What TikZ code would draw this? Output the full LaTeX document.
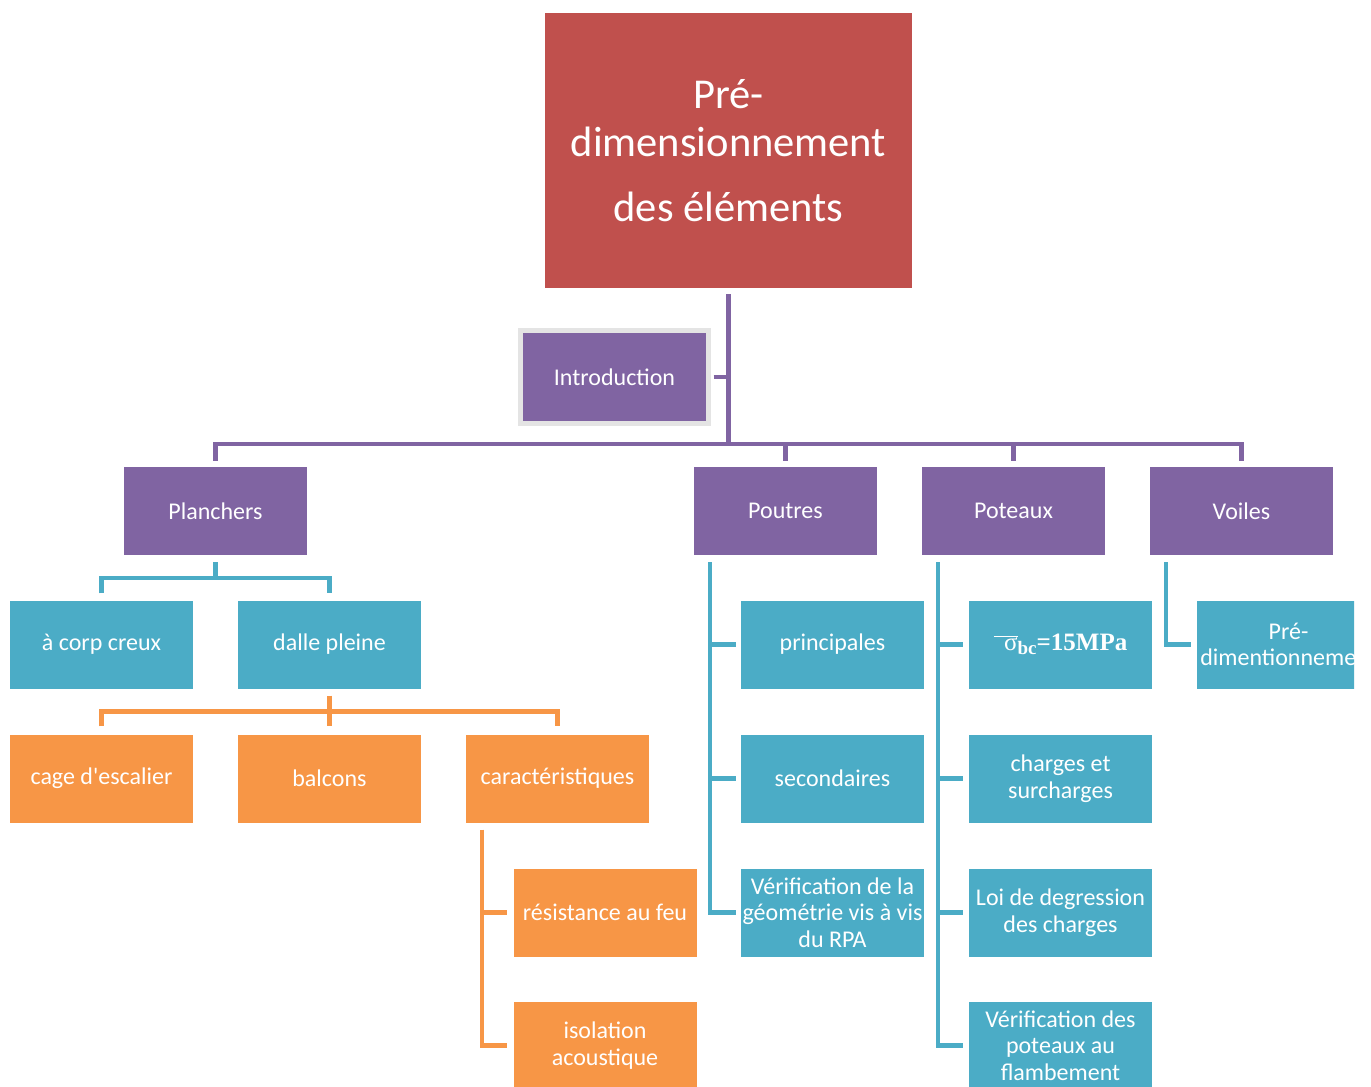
\documentclass[tikz,border=0pt]{standalone}
\usepackage{fontspec}
\setmainfont{Carlito}
\newfontfamily\serif{Liberation Serif}
\usetikzlibrary{calc}
\definecolor{cred}{HTML}{C0504D}
\definecolor{cpur}{HTML}{8064A2}
\definecolor{cblue}{HTML}{4BACC6}
\definecolor{corange}{HTML}{F79646}
\definecolor{cframe}{HTML}{E4E4E4}
\tikzset{
  box/.style={rectangle, minimum width=183pt, minimum height=88pt, inner sep=1pt,
    text=white, align=center, font=\fontsize{24}{26.5}\selectfont},
  pbox/.style={box, fill=cpur},
  bbox/.style={box, fill=cblue},
  obox/.style={box, fill=corange},
  pl/.style={draw=cpur, line width=4.5pt},
  bl/.style={draw=cblue, line width=4.5pt},
  ol/.style={draw=corange, line width=4.5pt},
}
\begin{document}
\begin{tikzpicture}[x=1pt,y=-1pt]
\useasboundingbox[fill=white] (0,0) rectangle (1371,1087);

\node[box, fill=cred, minimum width=367pt, minimum height=275pt,
  font=\fontsize{42.5}{48}\selectfont] (top) at (728.5,150.5)
  {Pré-\\dimensionnement\\[17pt]des éléments};
\node[pbox, minimum width=188pt, minimum height=93pt, draw=cframe, line width=5pt] (intro) at (614.5,377) {Introduction};

\node[pbox] (planchers) at (215.5,511) {Planchers};
\node[pbox] (poutres) at (785.5,511) {Poutres};
\node[pbox] (poteaux) at (1013.5,511) {Poteaux};
\node[pbox] (voiles) at (1241.5,511) {Voiles};

\node[bbox] (corp) at (101.5,644.5) {à corp creux};
\node[bbox] (dalle) at (329.5,644.5) {dalle pleine};

\node[obox] (cage) at (101.5,778.5) {cage d\textquotesingle escalier};
\node[obox] (balcons) at (329.5,778.5) {balcons};
\node[obox] (carac) at (557.5,778.5) {caractéristiques};
\node[obox] (feu) at (605,912.5) {résistance au feu};
\node[obox] (acou) at (605,1045.5) {isolation\\acoustique};

\node[bbox] (princ) at (832.5,644.5) {principales};
\node[bbox] (second) at (832.5,778.5) {secondaires};
\node[bbox] (verif) at (832.5,912.5) {Vérification de la\\géométrie vis à vis\\du RPA};

\node[bbox] (sigma) at (1060.5,644.5) {\serif\fontsize{25}{28}\selectfont$\overline{\mbox{\serif\fontsize{25}{28}\selectfont\ \,σ}}$\raisebox{-0.35ex}{\bfseries\fontsize{19}{20}\selectfont bc}\bfseries=15MPa};
\node[bbox] (charges) at (1060.5,778.5) {charges et\\surcharges};
\node[bbox] (loi) at (1060.5,912.5) {Loi de degression\\des charges};
\node[bbox] (flamb) at (1060.5,1045.5) {Vérification des\\poteaux au\\flambement};

\begin{scope}
\clip (0,0) rectangle (1354,1087);
\node[bbox] (pre) at (1288.5,644.5) {Pré-\\dimentionnement};
\end{scope}

% purple tree
\coordinate (bus) at (728.5,444);
\draw[pl] ($(top.south)+(0,6)$) -- (bus);
\draw[pl] ($(intro.east)+(2.5,0)$) -- (intro.east -| bus);
\draw[pl] ($(planchers.north)+(0,-6)$) -- (planchers.north |- bus) -- (voiles.north |- bus) -- ($(voiles.north)+(0,-6)$);
\draw[pl] ($(poutres.north)+(0,-6)$) -- (poutres.north |- bus);
\draw[pl] ($(poteaux.north)+(0,-6)$) -- (poteaux.north |- bus);

% planchers
\coordinate (pbar) at ($(planchers.south)+(0,23)$);
\draw[bl] ($(planchers.south)+(0,7)$) -- (pbar);
\draw[bl] ($(corp.north)+(0,-7)$) -- (corp.north |- pbar) -- (dalle.north |- pbar) -- ($(dalle.north)+(0,-7)$);

% dalle pleine
\coordinate (dbar) at ($(dalle.south)+(0,23)$);
\draw[ol] ($(dalle.south)+(0,7)$) -- ($(balcons.north)+(0,-8)$);
\draw[ol] ($(cage.north)+(0,-8)$) -- (cage.north |- dbar) -- (carac.north |- dbar) -- ($(carac.north)+(0,-8)$);

% caracteristiques
\coordinate (cx) at ($(carac.south west)+(16,7)$);
\draw[ol] (cx) -- (cx |- acou.west) -- ($(acou.west)+(-6,0)$);
\draw[ol] (cx |- feu.west) -- ($(feu.west)+(-6,0)$);

% poutres
\coordinate (px) at ($(poutres.south west)+(16,7)$);
\draw[bl] (px) -- (px |- verif.west) -- ($(verif.west)+(-5,0)$);
\draw[bl] (px |- princ.west) -- ($(princ.west)+(-5,0)$);
\draw[bl] (px |- second.west) -- ($(second.west)+(-5,0)$);

% poteaux
\coordinate (tx) at ($(poteaux.south west)+(16,7)$);
\draw[bl] (tx) -- (tx |- flamb.west) -- ($(flamb.west)+(-6,0)$);
\draw[bl] (tx |- sigma.west) -- ($(sigma.west)+(-6,0)$);
\draw[bl] (tx |- charges.west) -- ($(charges.west)+(-6,0)$);
\draw[bl] (tx |- loi.west) -- ($(loi.west)+(-6,0)$);

% voiles
\coordinate (vx) at ($(voiles.south west)+(16,7)$);
\draw[bl] (vx) -- (vx |- pre.west) -- ($(pre.west)+(-6,0)$);
\end{tikzpicture}
\end{document}
